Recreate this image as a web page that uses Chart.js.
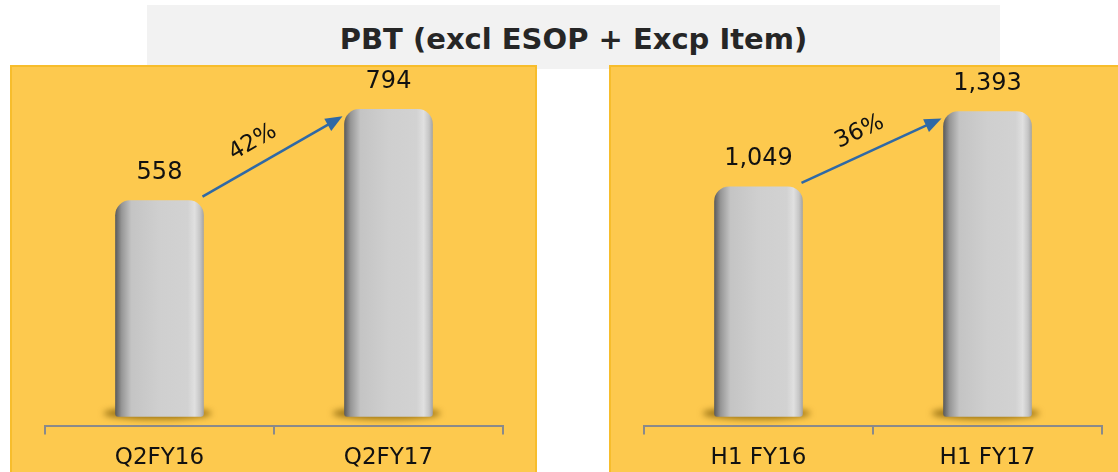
<!DOCTYPE html>
<html>
<head>
<meta charset="utf-8">
<script src="https://cdn.jsdelivr.net/npm/chart.js@4.4.0/dist/chart.umd.min.js"></script>
<style>
  html, body { margin: 0; padding: 0; background: #fff; }
  body { width: 1118px; height: 472px; position: relative; overflow: hidden; font-family: "DejaVu Sans", sans-serif; }
  #titleBox {
    position: absolute; left: 147px; top: 5px; width: 853px; height: 64px;
    background: #f2f2f2;
  }
  #title {
    position: absolute; left: 147px; top: 22px; width: 853px; text-align: center;
    font-weight: bold; font-size: 29px; color: #262626;
  }
  .panel {
    position: absolute; top: 65px; height: 420px; background: #fdc94e;
    border: 2px solid #f7bd2c; box-sizing: border-box;
  }
  #leftPanel { left: 10px; width: 527px; }
  #rightPanel { left: 609px; width: 515px; }
  .wrap { position: absolute; top: 65px; height: 417px; }
  #leftWrap { left: 10px; width: 527px; }
  #rightWrap { left: 609px; width: 509px; }
</style>
</head>
<body>
<div id="titleBox"></div>
<div id="title">PBT (excl ESOP + Excp Item)</div>
<div class="panel" id="leftPanel"></div>
<div class="panel" id="rightPanel"></div>
<div class="wrap" id="leftWrap"><canvas id="leftChart"></canvas></div>
<div class="wrap" id="rightWrap"><canvas id="rightChart"></canvas></div>

<script>
const leftLabels = ["Q2FY16", "Q2FY17"];
const leftValues = [558, 794];
const leftGrowth = "42%";

const rightLabels = ["H1 FY16", "H1 FY17"];
const rightValues = [1049, 1393];
const rightGrowth = "36%";

const arrowColor = "#2f69a6";
const axisColor = "#8a8a8a";
const barWidth = 88;

function barGradient(context) {
  const chart = context.chart;
  if (!chart.chartArea) return "#c8c8c8";
  const x = chart.scales.x.getPixelForValue(context.dataIndex);
  const g = chart.ctx.createLinearGradient(x - barWidth / 2, 0, x + barWidth / 2, 0);
  g.addColorStop(0, "#5c5c5c");
  g.addColorStop(0.07, "#969696");
  g.addColorStop(0.18, "#c4c4c4");
  g.addColorStop(0.5, "#cfcfcf");
  g.addColorStop(0.82, "#d2d2d2");
  g.addColorStop(0.9, "#e0e0e0");
  g.addColorStop(0.96, "#c6c6c6");
  g.addColorStop(1, "#a6a6a6");
  return g;
}

// base shadow, value labels, growth arrow
const decorPlugin = {
  id: "decor",
  beforeDatasetsDraw(chart) {
    const ctx = chart.ctx;
    const bars = chart.getDatasetMeta(0).data;
    bars.forEach(bar => {
      ctx.save();
      ctx.filter = "blur(3px)";
      ctx.fillStyle = "rgba(120, 85, 0, 0.75)";
      ctx.beginPath();
      ctx.ellipse(bar.x - 2, bar.base - 3, bar.width / 2 + 10, 6, 0, 0, Math.PI * 2);
      ctx.fill();
      ctx.restore();
    });
  },
  afterDatasetsDraw(chart, args, opts) {
    const ctx = chart.ctx;
    const bars = chart.getDatasetMeta(0).data;
    const values = chart.data.datasets[0].data;
    ctx.save();
    ctx.fillStyle = "#111";
    ctx.font = "24px 'DejaVu Sans'";
    ctx.textAlign = "center";
    ctx.textBaseline = "middle";
    bars.forEach((bar, i) => {
      ctx.fillText(values[i].toLocaleString("en-US"), bar.x, bar.y - 28);
    });

    // arrow between the two bars
    const a = bars[0], b = bars[1];
    const x1 = a.x + a.width / 2 - 1, y1 = a.y - 4;
    const x2 = b.x - b.width / 2 - 2, y2 = b.y + 7;
    const ang = Math.atan2(y2 - y1, x2 - x1);
    const head = 17;
    ctx.strokeStyle = arrowColor;
    ctx.fillStyle = arrowColor;
    ctx.lineWidth = 2.5;
    ctx.beginPath();
    ctx.moveTo(x1, y1);
    ctx.lineTo(x2 - head * Math.cos(ang) * 0.8, y2 - head * Math.sin(ang) * 0.8);
    ctx.stroke();
    ctx.beginPath();
    ctx.moveTo(x2, y2);
    ctx.lineTo(x2 - head * Math.cos(ang) + 7 * Math.sin(ang), y2 - head * Math.sin(ang) - 7 * Math.cos(ang));
    ctx.lineTo(x2 - head * Math.cos(ang) - 7 * Math.sin(ang), y2 - head * Math.sin(ang) + 7 * Math.cos(ang));
    ctx.closePath();
    ctx.fill();

    // growth text above the arrow
    const mx = (x1 + x2) / 2, my = (y1 + y2) / 2;
    const along = opts.along, perp = 22;
    const tx = mx + along * Math.cos(ang) + perp * Math.sin(ang);
    const ty = my + along * Math.sin(ang) - perp * Math.cos(ang);
    ctx.translate(tx, ty);
    ctx.rotate(ang);
    ctx.fillStyle = "#111";
    ctx.font = "23px 'DejaVu Sans'";
    ctx.fillText(opts.text, 0, 0);
    ctx.restore();
  }
};

function makeChart(canvasId, labels, values, growth, yMin, yMax, padRight, along) {
  return new Chart(document.getElementById(canvasId), {
    type: "bar",
    data: {
      labels,
      datasets: [{
        data: values,
        backgroundColor: barGradient,
        barThickness: barWidth,
        borderRadius: { topLeft: 15, topRight: 15, bottomLeft: 3, bottomRight: 3 },
        borderSkipped: false
      }]
    },
    options: {
      responsive: true,
      maintainAspectRatio: false,
      animation: false,
      layout: { padding: { top: 20, left: 35, right: padRight, bottom: 0 } },
      plugins: {
        legend: { display: false },
        tooltip: { enabled: false },
        decor: { text: growth, along }
      },
      scales: {
        x: {
          offset: true,
          border: { color: axisColor, width: 2 },
          grid: {
            offset: true,
            drawOnChartArea: false,
            drawTicks: true,
            tickLength: 8,
            color: axisColor,
            lineWidth: 2
          },
          ticks: {
            color: "#111",
            padding: 10,
            font: { family: "DejaVu Sans", size: 23 }
          }
        },
        y: { display: false, min: yMin, max: yMax }
      }
    },
    plugins: [decorPlugin]
  });
}

makeChart("leftChart", leftLabels, leftValues, leftGrowth, -26, 857, 34, -10);
makeChart("rightChart", rightLabels, rightValues, rightGrowth, -46, 1514, 16, -3);
</script>
</body>
</html>
